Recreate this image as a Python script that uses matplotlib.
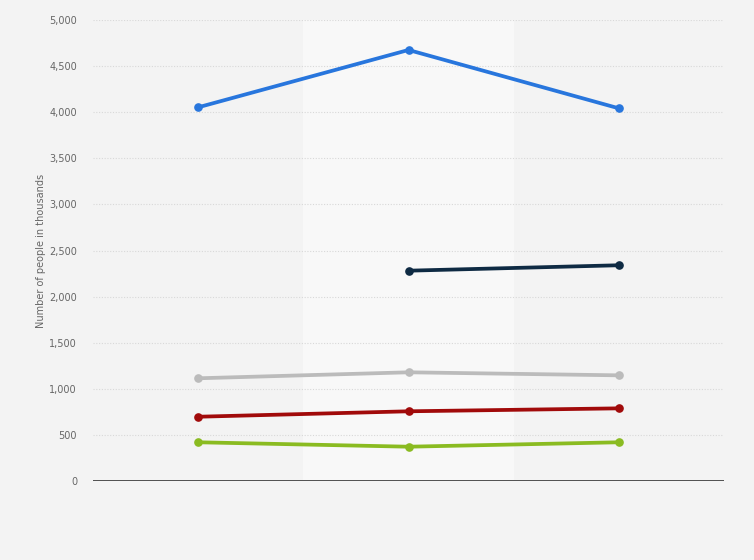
import matplotlib
matplotlib.use("Agg")
import matplotlib.pyplot as plt
import numpy as np

categories = ["", "", ""]
series_blue = [4053, 4675, 4042]
series_navy = [None, 2281, 2340]
series_gray = [1114, 1179, 1146]
series_red = [697, 756, 788]
series_green = [420, 372, 420]
yticks = [0, 500, 1000, 1500, 2000, 2500, 3000, 3500, 4000, 4500, 5000]

series = [
    (series_blue, "#2876dd"),
    (series_navy, "#0e2a43"),
    (series_gray, "#bbbbbb"),
    (series_red, "#a10a0a"),
    (series_green, "#8abb21"),
]

fig = plt.figure(figsize=(7.54, 5.60), dpi=100, facecolor="#f3f3f3")
ax = fig.add_axes([93/754, 1-481/560, (724-93)/754, (481-20)/560])
ax.set_facecolor("#f3f3f3")

x = np.arange(len(categories))
ax.set_xlim(-0.5, len(categories)-0.5)
ax.set_ylim(0, 5000)

# alternating bands
for i in x:
    if i % 2 == 1:
        ax.axvspan(i-0.5, i+0.5, color="#f8f8f8", zorder=0, lw=0)

for v in yticks[1:]:
    ax.axhline(v, color="#d8d8d8", lw=0.8, ls=(0, (1, 1.5)), zorder=1)
ax.axhline(0, color="#333333", lw=1.2, zorder=3)

for vals, col in series:
    arr = np.array([np.nan if v is None else v for v in vals], dtype=float)
    ax.plot(x, arr, color=col, lw=2.7, marker="o", ms=5.2, zorder=4,
            solid_capstyle="round")

ax.set_yticks(yticks)
ax.set_yticklabels([f"{v:,}" for v in yticks], fontsize=7, color="#666666")
ax.set_xticks([])
ax.tick_params(axis="y", length=0, pad=11.5)
for s in ax.spines.values():
    s.set_visible(False)

ax.set_ylabel("Number of people in thousands", fontsize=7, color="#666666", labelpad=2)

fig.savefig("out.png", dpi=100, facecolor=fig.get_facecolor())
